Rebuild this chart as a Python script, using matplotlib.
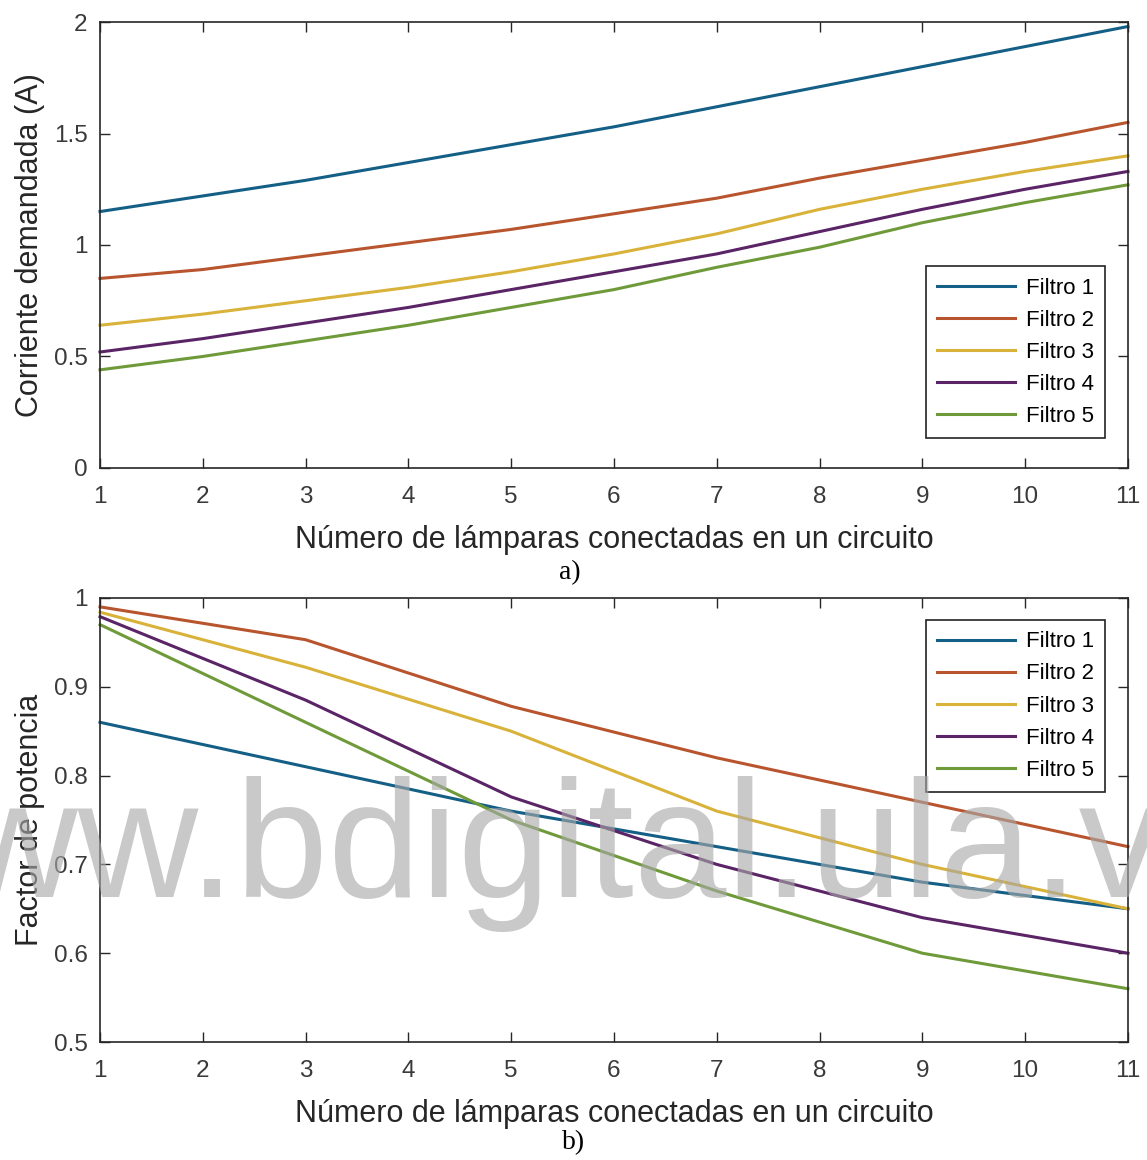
import numpy as np
import matplotlib
matplotlib.use("Agg")
import matplotlib.pyplot as plt

# ── Data ─────────────────────────────────────────────────────────

lamparas = [1, 2, 3, 4, 5, 6, 7, 8, 9, 10, 11]
lamparas_fp = [1, 3, 5, 7, 9, 11]

corriente_f1 = [1.15, 1.22, 1.29, 1.37, 1.45, 1.53, 1.62, 1.71, 1.80, 1.89, 1.98]
corriente_f2 = [0.85, 0.89, 0.95, 1.01, 1.07, 1.14, 1.21, 1.30, 1.38, 1.46, 1.55]
corriente_f3 = [0.64, 0.69, 0.75, 0.81, 0.88, 0.96, 1.05, 1.16, 1.25, 1.33, 1.40]
corriente_f4 = [0.52, 0.58, 0.65, 0.72, 0.80, 0.88, 0.96, 1.06, 1.16, 1.25, 1.33]
corriente_f5 = [0.44, 0.50, 0.57, 0.64, 0.72, 0.80, 0.90, 0.99, 1.10, 1.19, 1.27]

fp_f1 = [0.86, 0.81, 0.76, 0.72, 0.68, 0.65]
fp_f2 = [0.99, 0.953, 0.878, 0.82, 0.77, 0.72]
fp_f3 = [0.984, 0.922, 0.85, 0.76, 0.70, 0.65]
fp_f4 = [0.979, 0.885, 0.776, 0.70, 0.64, 0.60]
fp_f5 = [0.97, 0.86, 0.75, 0.67, 0.60, 0.56]

labels = ["Filtro 1", "Filtro 2", "Filtro 3", "Filtro 4", "Filtro 5"]

yticks_a = [0, 0.5, 1, 1.5, 2]
yticklabels_a = ["0", "0.5", "1", "1.5", "2"]
yticks_b = [0.5, 0.6, 0.7, 0.8, 0.9, 1.0]
yticklabels_b = ["0.5", "0.6", "0.7", "0.8", "0.9", "1"]

# MATLAB-like colours, a bit darker as in the scanned figure
colors = ["#145f86", "#b8552e", "#d9b23a", "#5a2466", "#6f9a3a"]
axis_color = "#262626"

plt.rcParams["font.family"] = ["Liberation Sans", "DejaVu Sans"]

XLABEL = "Número de lámparas conectadas en un circuito"


def style_axes(ax, yticks, yticklabels, ylim):
    ax.set_xlim(1, 11)
    ax.set_ylim(*ylim)
    ax.set_xticks(lamparas)
    ax.set_xticklabels([str(v) for v in lamparas])
    ax.set_yticks(yticks)
    ax.set_yticklabels(yticklabels)
    ax.tick_params(direction="in", length=7, width=1.0, top=True, right=True,
                   labelsize=17.5, colors=axis_color, labelcolor="#3a3a3a")
    ax.tick_params(axis="x", pad=13)
    ax.tick_params(axis="y", pad=9)
    for s in ax.spines.values():
        s.set_color(axis_color)
        s.set_linewidth(1.2)
    ax.set_xlabel(XLABEL, fontsize=22, color="#262626")
    ax.xaxis.set_label_coords(0.5, -0.128)
    ax.yaxis.set_label_coords(-0.054, 0.5)


def add_legend(ax, loc, anchor):
    leg = ax.legend(labels, loc=loc, bbox_to_anchor=anchor, fontsize=16,
                    fancybox=False, framealpha=1, edgecolor="#222222",
                    handlelength=3.5, handletextpad=0.5, labelspacing=0.5,
                    borderpad=0.5, borderaxespad=0)
    leg.get_frame().set_linewidth(1.2)


fig = plt.figure(figsize=(11.47, 11.60), dpi=100)

# ── a) Corriente demandada ───────────────────────────────────────

ax1 = fig.add_axes([0.0872, 0.5966, 0.8962, 0.3844])
for ys, c in zip([corriente_f1, corriente_f2, corriente_f3, corriente_f4, corriente_f5], colors):
    ax1.plot(lamparas, ys, color=c, linewidth=2.2, clip_on=False)
style_axes(ax1, yticks_a, yticklabels_a, (0, 2))
ax1.set_ylabel("Corriente demandada (A)", fontsize=22, color="#262626")
add_legend(ax1, "lower right", (0.978, 0.067))
fig.text(0.497, 1 - 573 / 1160, "a)", family=["Liberation Serif"], fontsize=20,
         ha="center", va="center")

# ── b) Factor de potencia ────────────────────────────────────────

ax2 = fig.add_axes([0.0872, 0.1017, 0.8962, 0.3828])
for ys, c in zip([fp_f1, fp_f2, fp_f3, fp_f4, fp_f5], colors):
    ax2.plot(lamparas_fp, ys, color=c, linewidth=2.2, clip_on=False)
style_axes(ax2, yticks_b, yticklabels_b, (0.5, 1.0))
ax2.set_ylabel("Factor de potencia", fontsize=22, color="#262626")
add_legend(ax2, "upper right", (0.978, 0.95))
fig.text(0.5, 1 - 1143 / 1160, "b)", family=["Liberation Serif"], fontsize=20,
         ha="center", va="center")

# watermark of the source repository
fig.text(-0.142, 1 - 897 / 1160, "www.bdigital.ula.ve", fontsize=120,
         color="#a8a8a8", alpha=0.62, ha="left", va="baseline", zorder=10)

fig.savefig("out.png", dpi=100)
